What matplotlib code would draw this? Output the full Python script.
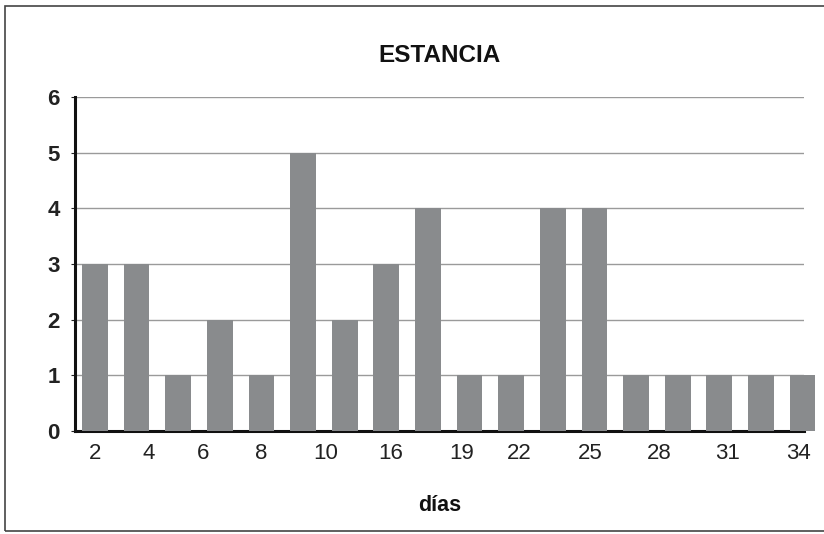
import numpy as np
import matplotlib
matplotlib.use("Agg")
import matplotlib.pyplot as plt
from matplotlib.patches import Rectangle

plt.rcParams['font.family'] = ['Liberation Sans', 'DejaVu Sans']

# counts per stay (18 bars), only some categories are labelled on the axis
bar_counts = [3, 3, 1, 2, 1, 5, 2, 3, 4, 1, 1, 4, 4, 1, 1, 1, 1, 1]
tick_labels = ["2", "4", "6", "8", "10", "16", "19", "22", "25", "28", "31", "34"]
y_ticks = [0, 1, 2, 3, 4, 5, 6]

# where the original put its category labels, in bar-index units
tick_slots = [0, 1.3, 2.6, 4.0, 5.55, 7.1, 8.8, 10.2, 11.9, 13.55, 15.2, 16.9]

fig = plt.figure(figsize=(8.24, 5.34), dpi=100)
ax = fig.add_axes([0.091, 0.193, 0.885, 0.625])

x = np.arange(len(bar_counts))
bars = ax.bar(x, bar_counts, width=0.62, color="#898b8d", zorder=3)
for b in bars:
    b.set_clip_on(False)

ax.set_xlim(-0.48, 17.04)
ax.set_ylim(0, 6)

ax.set_xticks(tick_slots)
ax.set_xticklabels(tick_labels, fontsize=16)
ax.set_yticks(y_ticks)
ax.set_yticklabels([str(v) for v in y_ticks], fontsize=16, fontweight="bold")
ax.tick_params(axis="x", length=0, pad=9, colors="#222222")
ax.tick_params(axis="y", length=3, pad=8, colors="#222222")

ax.yaxis.grid(True, color="#9a9a9a", linewidth=1.0, zorder=0)
ax.set_axisbelow(True)

for s in ["top", "right"]:
    ax.spines[s].set_visible(False)
ax.spines["left"].set_linewidth(2.2)
ax.spines["bottom"].set_linewidth(2.2)
ax.spines["left"].set_color("#111111")
ax.spines["bottom"].set_color("#111111")

ax.set_title("ESTANCIA", fontsize=17.5, fontweight="bold", pad=25, color="#111111")
ax.set_xlabel("días", fontsize=15.5, fontweight="bold", labelpad=22, color="#111111")

# outer frame of the chart area
fig.patches.append(Rectangle((0.006, 0.006), 1.2, 0.982, transform=fig.transFigure,
                             fill=False, edgecolor="#444444", linewidth=1.2))

fig.savefig("out.png", dpi=100)
